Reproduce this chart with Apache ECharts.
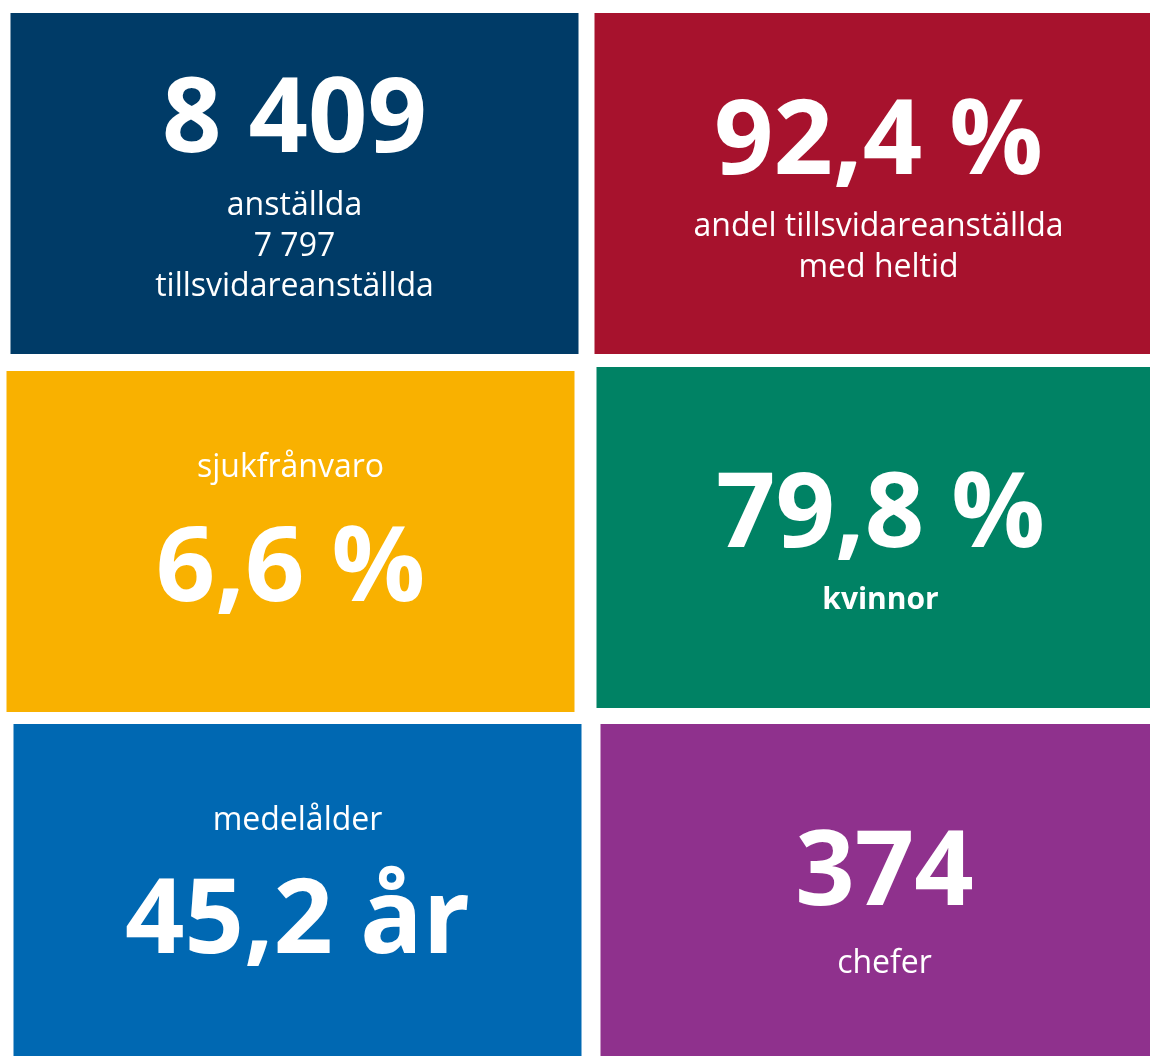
<!DOCTYPE html>
<html>
<head>
<meta charset="utf-8">
<script src="https://cdn.jsdelivr.net/npm/echarts@6/dist/echarts.min.js"></script>
<style>
html,body{margin:0;padding:0;background:#fff;}
#chart{width:1150px;height:1056px;}
</style>
</head>
<body>
<div id="chart"></div>
<script>
// ---- data ----
var tileColumns = [0, 1, 0, 1, 0, 1];
var tileRows = [0, 0, 1, 1, 2, 2];
var keyValues = ['8 409', '92,4 %', '6,6 %', '79,8 %', '45,2 år', '374'];
var captions = [
  ['anställda', '7 797', 'tillsvidareanställda'],
  ['andel tillsvidareanställda', 'med heltid'],
  ['sjukfrånvaro'],
  ['kvinnor'],
  ['medelålder'],
  ['chefer']
];

// ---- style / layout (not data) ----
var tileColors = ['#003B67', '#A7122D', '#F9B100', '#008264', '#0068B2', '#8F318D'];
var tileNudge = [[0, 0], [-1, 0], [-4, 3], [1, -1], [3, 1], [5, 1]];
var valueBaseline = [141, 163, 232, 182, 231, 183];
var captionBaseline = [202, 223, 106, 242, 106, 249];
var captionBold = [false, false, false, true, false, false];
var valueSize = 104, captionSize = 32, boldCaptionSize = 30, captionPitch = 40.5;
var gapX = 17, gapY = 14;
var pitchX = 585, pitchY = 355;
var gridLeft = 2, gridTop = 6;
var FONT = '"Open Sans", "Noto Sans", sans-serif';

var seriesData = tileColumns.map(function (c, i) { return [c, tileRows[i], i]; });

var W = 1150, H = 1056;
var chart = echarts.init(document.getElementById('chart'), null, {renderer: 'canvas'});
chart.setOption({
  animation: false,
  backgroundColor: '#ffffff',
  grid: {left: gridLeft, top: gridTop, right: 0, bottom: 0, outerBoundsMode: 'none', containLabel: false},
  xAxis: {type: 'value', min: -0.5, max: -0.5 + (W - gridLeft) / pitchX, show: false},
  yAxis: {type: 'value', min: -0.5, max: -0.5 + (H - gridTop) / pitchY, inverse: true, show: false},
  series: [{
    type: 'custom',
    clip: false,
    data: seriesData,
    renderItem: function (params, api) {
      var c = api.value(0), r = api.value(1), i = api.value(2);
      var p0 = api.coord([c - 0.5, r - 0.5]);
      var p1 = api.coord([c + 0.5, r + 0.5]);
      var x0 = p0[0] + gapX / 2 + tileNudge[i][0];
      var y0 = p0[1] + gapY / 2 + tileNudge[i][1];
      var w = p1[0] - p0[0] - gapX;
      var h = p1[1] - p0[1] - gapY;
      var cx = x0 + w / 2;
      var children = [{
        type: 'rect',
        shape: {x: x0, y: y0, width: w, height: h},
        style: {fill: tileColors[i]}
      }, {
        type: 'text',
        style: {
          text: keyValues[i],
          x: cx, y: y0 + valueBaseline[i] - 0.30 * valueSize,
          align: 'center', verticalAlign: 'middle',
          fill: '#ffffff',
          font: 'bold ' + valueSize + 'px ' + FONT
        }
      }];
      var cs = captionBold[i] ? boldCaptionSize : captionSize;
      captions[i].forEach(function (line, k) {
        children.push({
          type: 'text',
          style: {
            text: line,
            x: cx, y: y0 + captionBaseline[i] + k * captionPitch - 0.27 * cs,
            align: 'center', verticalAlign: 'middle',
            fill: '#ffffff',
            font: (captionBold[i] ? 'bold ' : '') + cs + 'px ' + FONT
          }
        });
      });
      return {type: 'group', children: children};
    }
  }]
});
</script>
</body>
</html>
